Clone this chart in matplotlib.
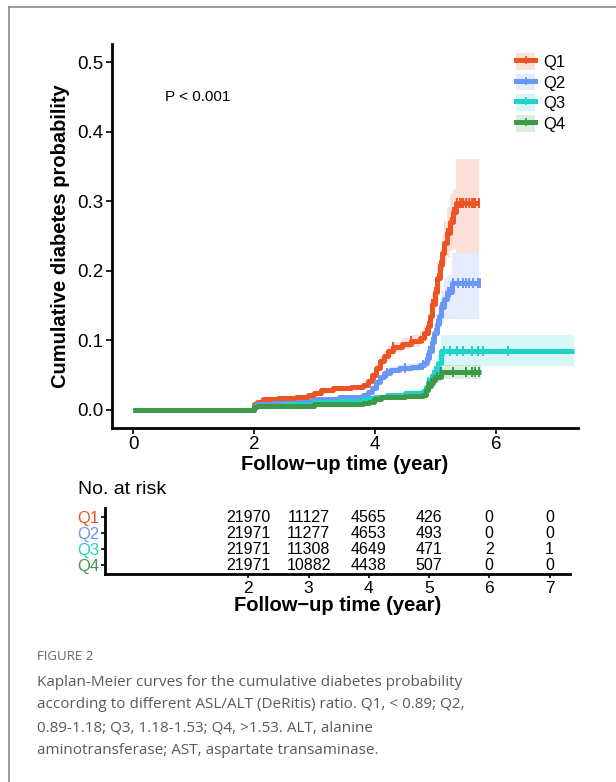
import matplotlib
matplotlib.use("Agg")
import matplotlib.pyplot as plt
import numpy as np
from matplotlib.lines import Line2D
from matplotlib.patches import Patch

plt.rcParams['font.family'] = ['Liberation Sans', 'DejaVu Sans']

groups = ['Q1', 'Q2', 'Q3', 'Q4']
colors = ['#EC5424', '#6A96F5', '#1FD3C8', '#3D9A48']

# Kaplan-Meier cumulative incidence (estimated from the figure)
q1_t = [0, 2.0, 2.05, 2.15, 2.4, 2.7, 2.9, 3.0, 3.1, 3.3, 3.6, 3.8, 3.88, 3.95, 4.02, 4.08, 4.15, 4.22, 4.3, 4.45, 4.6, 4.75, 4.82,
        4.87, 4.91, 4.95, 4.99, 5.03, 5.07, 5.11, 5.15, 5.2, 5.25, 5.3, 5.34, 5.73]
q1_est = [0, 0.008, 0.012, 0.015, 0.017, 0.019, 0.021, 0.025, 0.028, 0.031, 0.033, 0.036, 0.042, 0.050, 0.060, 0.070, 0.078, 0.085, 0.090, 0.095, 0.099, 0.104, 0.110,
          0.120, 0.135, 0.152, 0.170, 0.190, 0.208, 0.225, 0.240, 0.255, 0.270, 0.285, 0.298, 0.298]
q1_lo = [0, 0.006, 0.010, 0.013, 0.015, 0.017, 0.019, 0.022, 0.025, 0.028, 0.030, 0.033, 0.038, 0.046, 0.055, 0.064, 0.072, 0.078, 0.083, 0.087, 0.091, 0.095, 0.100,
         0.109, 0.122, 0.137, 0.152, 0.170, 0.185, 0.199, 0.210, 0.220, 0.228, 0.232, 0.225, 0.225]
q1_hi = [0, 0.010, 0.014, 0.017, 0.019, 0.021, 0.023, 0.028, 0.031, 0.034, 0.036, 0.039, 0.046, 0.055, 0.065, 0.076, 0.085, 0.092, 0.097, 0.103, 0.108, 0.113, 0.121,
         0.132, 0.149, 0.168, 0.189, 0.212, 0.232, 0.252, 0.272, 0.292, 0.310, 0.317, 0.360, 0.360]
q1_cens = [4.0, 4.3, 4.6, 4.8, 4.85, 4.88, 4.9, 4.93, 4.95, 4.97, 5.0, 5.02, 5.05, 5.08, 5.1, 5.12, 5.14, 5.17, 5.2, 5.23, 5.26, 5.3,
           5.36, 5.4, 5.42, 5.45, 5.5, 5.55, 5.6, 5.62, 5.65, 5.72]

q2_t = [0, 2.0, 2.05, 2.3, 2.7, 2.95, 3.05, 3.4, 3.8, 3.88, 3.95, 4.02, 4.08, 4.15, 4.25, 4.4, 4.6, 4.75, 4.82, 4.86, 4.9, 4.94,
        4.98, 5.02, 5.06, 5.1, 5.15, 5.2, 5.28, 5.73]
q2_est = [0, 0.006, 0.008, 0.010, 0.012, 0.014, 0.016, 0.019, 0.022, 0.026, 0.032, 0.040, 0.047, 0.053, 0.057, 0.060, 0.062, 0.064, 0.068, 0.075,
          0.085, 0.097, 0.110, 0.123, 0.135, 0.148, 0.160, 0.170, 0.182, 0.182]
q2_lo = [0, 0.004, 0.006, 0.008, 0.010, 0.012, 0.014, 0.017, 0.019, 0.023, 0.028, 0.036, 0.042, 0.047, 0.051, 0.054, 0.056, 0.057, 0.061, 0.067,
         0.076, 0.086, 0.097, 0.107, 0.116, 0.124, 0.130, 0.130, 0.130, 0.130]
q2_hi = [0, 0.008, 0.010, 0.012, 0.014, 0.016, 0.018, 0.021, 0.025, 0.029, 0.036, 0.044, 0.052, 0.059, 0.063, 0.066, 0.068, 0.071, 0.075, 0.083,
         0.094, 0.108, 0.123, 0.139, 0.154, 0.172, 0.190, 0.194, 0.225, 0.225]
q2_cens = [4.2, 4.5, 4.8, 4.86, 4.9, 4.92, 4.94, 4.97, 5.0, 5.02, 5.04, 5.07, 5.1, 5.13, 5.17, 5.21, 5.25, 5.3, 5.38, 5.45, 5.5,
           5.55, 5.62, 5.7, 5.74]

q3_t = [0, 2.0, 2.05, 2.5, 3.0, 3.4, 3.8, 3.9, 4.0, 4.2, 4.5, 4.8, 4.84, 4.88, 4.92, 4.96, 5.0, 5.05, 5.1, 7.3]
q3_est = [0, 0.005, 0.006, 0.008, 0.011, 0.013, 0.015, 0.017, 0.019, 0.022, 0.025, 0.027, 0.033, 0.040, 0.045, 0.050, 0.056, 0.068, 0.085, 0.085]
q3_lo = [0, 0.004, 0.005, 0.007, 0.009, 0.011, 0.013, 0.015, 0.016, 0.019, 0.022, 0.024, 0.029, 0.035, 0.039, 0.043, 0.048, 0.057, 0.063, 0.063]
q3_hi = [0, 0.006, 0.007, 0.009, 0.013, 0.015, 0.017, 0.019, 0.022, 0.025, 0.028, 0.030, 0.037, 0.045, 0.051, 0.057, 0.064, 0.079, 0.107, 0.107]
q3_cens = [4.88, 4.92, 4.96, 5.0, 5.04, 5.15, 5.25, 5.35, 5.45, 5.6, 5.7, 5.78, 6.2]

q4_t = [0, 2.0, 2.05, 2.5, 3.0, 3.4, 3.8, 3.9, 3.98, 4.1, 4.5, 4.8, 4.84, 4.88, 4.92, 4.96, 5.0, 5.1, 5.76]
q4_est = [0, 0.004, 0.005, 0.006, 0.008, 0.009, 0.010, 0.012, 0.015, 0.018, 0.020, 0.022, 0.028, 0.034, 0.039, 0.043, 0.047, 0.055, 0.055]
q4_lo = [0, 0.003, 0.004, 0.005, 0.007, 0.008, 0.009, 0.010, 0.013, 0.016, 0.018, 0.020, 0.025, 0.030, 0.034, 0.037, 0.040, 0.045, 0.045]
q4_hi = [0, 0.005, 0.006, 0.007, 0.009, 0.010, 0.011, 0.014, 0.017, 0.020, 0.022, 0.024, 0.031, 0.038, 0.044, 0.049, 0.054, 0.065, 0.065]
q4_cens = [4.88, 4.93, 4.98, 5.03, 5.1, 5.3, 5.5, 5.6, 5.66, 5.72]

# number at risk
risk_times = [2, 3, 4, 5, 6, 7]
risk_q1 = [21970, 11127, 4565, 426, 0, 0]
risk_q2 = [21971, 11277, 4653, 493, 0, 0]
risk_q3 = [21971, 11308, 4649, 471, 2, 1]
risk_q4 = [21971, 10882, 4438, 507, 0, 0]

series = [
    (q1_t, q1_est, q1_lo, q1_hi, q1_cens),
    (q2_t, q2_est, q2_lo, q2_hi, q2_cens),
    (q3_t, q3_est, q3_lo, q3_hi, q3_cens),
    (q4_t, q4_est, q4_lo, q4_hi, q4_cens),
]
risks = [risk_q1, risk_q2, risk_q3, risk_q4]

W, H = 616, 782
fig = plt.figure(figsize=(W / 100, H / 100), dpi=100)


def fx(px):
    return px / W


def fy(py):
    return 1 - py / H


# main KM panel
ax = fig.add_axes([fx(112), fy(428), fx(578 - 112), (428 - 44) / H])
for (t, est, lo, hi, cens), c in zip(series, colors):
    ax.fill_between(t, lo, hi, step='post', color=c, alpha=0.18, lw=0)
for (t, est, lo, hi, cens), c in zip(series, colors):
    ax.step(t, est, where='post', color=c, lw=3.6, solid_capstyle='butt')
    t_arr = np.array(t)
    idx = np.searchsorted(t_arr, cens, side='right') - 1
    ax.plot(cens, np.array(est)[idx], ls='none', marker='|', ms=7, mew=1.4, color=c)

ax.set_xlim(-0.35, 7.36)
ax.set_ylim(-0.026, 0.526)
ax.set_xticks([0, 2, 4, 6])
ax.set_yticks([0.0, 0.1, 0.2, 0.3, 0.4, 0.5])
ax.set_yticklabels(['0.0', '0.1', '0.2', '0.3', '0.4', '0.5'])
for s in ['top', 'right']:
    ax.spines[s].set_visible(False)
for s in ['left', 'bottom']:
    ax.spines[s].set_linewidth(2)
ax.tick_params(labelsize=13.5, length=4, width=1.2, colors='black', pad=2)
ax.set_xlabel('Follow\u2212up time (year)', fontsize=14.5, fontweight='bold', labelpad=1)
ax.set_ylabel('Cumulative diabetes probability', fontsize=14.5, fontweight='bold', labelpad=5)
ax.text(0.53, 0.45, 'P < 0.001', fontsize=11, va='center')

handles = [(Patch(color=c, alpha=0.18, lw=0),
            Line2D([], [], color=c, lw=3.6, marker='|', ms=6, mew=1.2))
           for c in colors]
ax.legend(handles, groups, loc='upper left', bbox_to_anchor=(fx(503), fy(40)),
          bbox_transform=fig.transFigure, frameon=False, fontsize=12, borderpad=0.3,
          handlelength=1.15, handleheight=1.15, labelspacing=0.22, handletextpad=0.45)

# risk table
axr = fig.add_axes([fx(105), fy(574), fx(570 - 105), (574 - 508) / H])
for i, (r, c) in enumerate(zip(risks, colors)):
    for tt, v in zip(risk_times, r):
        axr.text(tt, 4 - i, str(v), ha='center', va='center', fontsize=11.5)
axr.set_xlim(-0.38, 7.34)
axr.set_ylim(0.4375, 4.5625)
axr.set_xticks(risk_times)
axr.set_yticks([4, 3, 2, 1])
axr.set_yticklabels(groups)
for lab, c in zip(axr.get_yticklabels(), colors):
    lab.set_color(c)
for s in ['top', 'right']:
    axr.spines[s].set_visible(False)
for s in ['left', 'bottom']:
    axr.spines[s].set_linewidth(2)
axr.tick_params(labelsize=12.5, length=3, width=1.2, pad=2)
axr.tick_params(axis='y', labelsize=12, pad=1)
axr.set_xlabel('Follow\u2212up time (year)', fontsize=14.5, fontweight='bold', labelpad=0)
fig.text(fx(78), fy(490), 'No. at risk', fontsize=14, va='center')

# page frame and caption
fig.add_artist(Line2D([fx(9), fx(9)], [fy(7), 0], color='#8a8a8a', lw=1.2))
fig.add_artist(Line2D([fx(9), 1], [fy(7), fy(7)], color='#8a8a8a', lw=1.2))

cap_font = ['Open Sans', 'DejaVu Sans']
fig.text(fx(37), fy(657), 'FIGURE 2', fontsize=9.5, color='#666666', va='center', family=cap_font)
caption = ["Kaplan-Meier curves for the cumulative diabetes probability",
           "according to different ASL/ALT (DeRitis) ratio. Q1, < 0.89; Q2,",
           "0.89-1.18; Q3, 1.18-1.53; Q4, >1.53. ALT, alanine",
           "aminotransferase; AST, aspartate transaminase."]
for k, line in enumerate(caption):
    fig.text(fx(37), fy(682 + 23 * k), line, fontsize=11, color='#5a5a5a',
             va='center', family=cap_font)

fig.savefig('out.png', dpi=100)
